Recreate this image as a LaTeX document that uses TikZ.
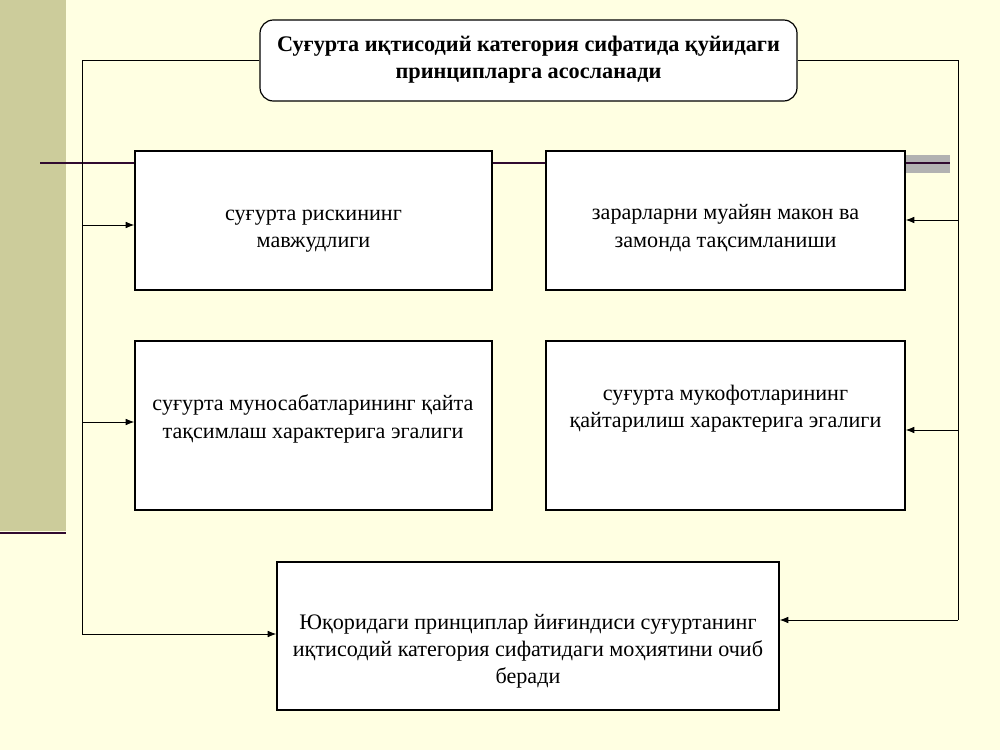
\documentclass[tikz,border=0pt]{standalone}
\usepackage{fontspec}
\setmainfont{Liberation Serif}
\usetikzlibrary{arrows,arrows.meta}
\definecolor{paper}{RGB}{255,255,226}
\definecolor{strip}{RGB}{204,204,155}
\definecolor{plum}{RGB}{48,10,48}
\definecolor{bar}{RGB}{178,178,178}
\tikzset{
	box/.style={draw,fill=white,line width=0.9pt,inner sep=0pt},
	txt/.style={align=center,font=\fontsize{16.6}{20.4}\selectfont},
	wire/.style={line width=0.75pt}
}

\begin{document}
\begin{tikzpicture}[x=0.75pt,y=-0.75pt,>={Latex[length=6.5pt,width=5pt]}]
	\useasboundingbox[fill=paper] (0,0) rectangle (1000,750);
	\fill[strip] (0,0) rectangle (66,531);
	\draw[plum,line width=2.2pt] (0,533) -- (66,533);
	\fill[bar] (905,155) rectangle (950,173);
	\draw[plum,line width=1.5pt] (40,163) -- (950,163);
	% title
	\node[box,rounded corners=10pt,minimum width=402.75pt,minimum height=60.75pt] (0) at (528.5,60.5) {};
	\node[txt,font=\fontsize{16.7}{20.4}\selectfont\bfseries] (0t) at (528.5,60) {Суғурта иқтисодий категория сифатида қуйидаги\\принципларга асосланади};
	% boxes
	\node[box,minimum width=267.75pt,minimum height=104.25pt] (1) at (313.5,220.5) {};
	\node[txt] (1t) at (313.5,231) {суғурта рискининг\\мавжудлиги};
	\node[box,minimum width=269.25pt,minimum height=104.25pt] (2) at (725.5,220.5) {};
	\node[txt] (2t) at (725.5,228) {зарарларни муайян макон ва\\замонда тақсимланиши};
	\node[box,minimum width=267.75pt,minimum height=126.75pt] (3) at (313.5,425.5) {};
	\node[txt] (3t) at (313,419) {суғурта муносабатларининг қайта\\тақсимлаш характерига эгалиги};
	\node[box,minimum width=269.25pt,minimum height=126.75pt] (4) at (725.5,425.5) {};
	\node[txt] (4t) at (725.5,409) {суғурта мукофотларининг\\қайтарилиш характерига эгалиги};
	\node[box,minimum width=376.5pt,minimum height=111pt] (5) at (528,636) {};
	\node[txt] (5t) at (528,651) {Юқоридаги принциплар йиғиндиси суғуртанинг\\иқтисодий категория сифатидаги моҳиятини очиб\\беради};
	% left branch
	\coordinate (a) at (82,60.5);
	\coordinate (b) at (82,634);
	\coordinate (c) at (82,225);
	\coordinate (d) at (82,422);
	\draw[wire] (0.west) -- (a) -- (b);
	\draw[wire,->] (b) -- (b -| 5.west);
	\draw[wire,->] (c) -- (c -| 1.west);
	\draw[wire,->] (d) -- (d -| 3.west);
	% right branch
	\coordinate (e) at (958,60.5);
	\coordinate (f) at (958,620);
	\coordinate (g) at (958,220);
	\coordinate (h) at (958,430);
	\draw[wire] (0.east) -- (e) -- (f);
	\draw[wire,->] (f) -- (f -| 5.east);
	\draw[wire,->] (g) -- (g -| 2.east);
	\draw[wire,->] (h) -- (h -| 4.east);
\end{tikzpicture}
\end{document}
